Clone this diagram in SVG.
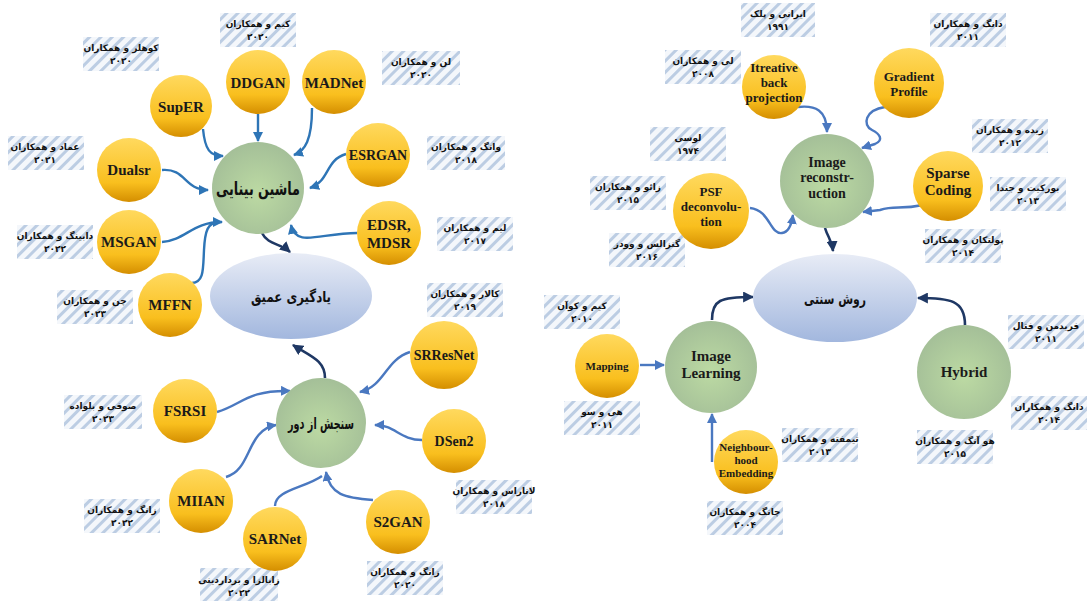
<svg xmlns="http://www.w3.org/2000/svg" width="1087" height="601" viewBox="0 0 1087 601">
<defs>
<style>
.lbl rect{fill:url(#hatch)}
.lbl text{font-family:"DejaVu Sans",sans-serif;font-weight:bold;font-size:9px;fill:#111;text-anchor:middle}
.y circle{fill:url(#gy)}
.g circle{fill:url(#gg)}
.e ellipse{fill:url(#ge)}
.en{font-family:"Liberation Serif",serif;font-weight:bold;fill:#1a1a1a;text-anchor:middle}
.fa{font-family:"DejaVu Sans",sans-serif;font-weight:bold;fill:#111;text-anchor:middle}
.c1{fill:none;stroke:#2e75b6;stroke-width:2.4}
.c2{fill:none;stroke:#4a78c0;stroke-width:2.4}
.cd{fill:none;stroke:#1f3864;stroke-width:2.6}
</style>
<pattern id="hatch" width="8" height="8" patternUnits="userSpaceOnUse" patternTransform="rotate(45)">
<rect width="8" height="8" fill="#f4f7fb"/>
<rect width="3" height="8" fill="#bccde3"/>
</pattern>
<linearGradient id="gy" x1="0" y1="0" x2="0" y2="1">
<stop offset="0" stop-color="#ffd95e"/>
<stop offset="0.7" stop-color="#f9bf1e"/>
<stop offset="1" stop-color="#d48e00"/>
</linearGradient>
<radialGradient id="gg" cx="0.5" cy="0.55" r="0.55">
<stop offset="0" stop-color="#bcdaa3"/>
<stop offset="1" stop-color="#a4bf98"/>
</radialGradient>
<linearGradient id="ge" x1="0" y1="0" x2="0" y2="1">
<stop offset="0" stop-color="#e8ecf6"/>
<stop offset="1" stop-color="#a2b7de"/>
</linearGradient>
<marker id="m1" viewBox="0 0 10 10" refX="9" refY="5" markerWidth="10" markerHeight="10" markerUnits="userSpaceOnUse" orient="auto"><path d="M0,0 L10,5 L0,10 z" fill="#2e75b6"/></marker>
<marker id="m2" viewBox="0 0 10 10" refX="9" refY="5" markerWidth="10" markerHeight="10" markerUnits="userSpaceOnUse" orient="auto"><path d="M0,0 L10,5 L0,10 z" fill="#4a78c0"/></marker>
<marker id="md" viewBox="0 0 10 10" refX="9" refY="5" markerWidth="11" markerHeight="11" markerUnits="userSpaceOnUse" orient="auto"><path d="M0,0 L10,5 L0,10 z" fill="#1f3864"/></marker>
</defs>
<rect width="1087" height="601" fill="#ffffff"/>

<g id="labels">
<g class="lbl"><rect x="83" y="37" width="76" height="34"/><text x="121" y="51">کوهلر و همکاران</text><text x="121" y="64">۲۰۲۰</text></g>
<g class="lbl"><rect x="220" y="13" width="76" height="34"/><text x="258" y="27">کیم و همکاران</text><text x="258" y="40">۲۰۲۰</text></g>
<g class="lbl"><rect x="382" y="51" width="78" height="34"/><text x="421" y="65">لن و همکاران</text><text x="421" y="78">۲۰۲۰</text></g>
<g class="lbl"><rect x="427" y="136" width="78" height="34"/><text x="466" y="150">وانگ و همکاران</text><text x="466" y="163">۲۰۱۸</text></g>
<g class="lbl"><rect x="8" y="136" width="76" height="34"/><text x="45" y="150">عماد و همکاران</text><text x="45" y="163">۲۰۲۱</text></g>
<g class="lbl"><rect x="17" y="225" width="76" height="34"/><text x="55" y="239">دابینگ و همکاران</text><text x="55" y="252">۲۰۲۲</text></g>
<g class="lbl"><rect x="57" y="290" width="76" height="34"/><text x="95" y="304">چن و همکاران</text><text x="95" y="317">۲۰۲۳</text></g>
<g class="lbl"><rect x="437" y="217" width="76" height="34"/><text x="475" y="231">لیم و همکاران</text><text x="475" y="244">۲۰۱۷</text></g>
<g class="lbl"><rect x="427" y="283" width="76" height="34"/><text x="465" y="297">کالار و همکاران</text><text x="465" y="310">۲۰۱۹</text></g>
<g class="lbl"><rect x="64" y="395" width="78" height="34"/><text x="103" y="409">صوفی و بلواده</text><text x="103" y="422">۲۰۲۳</text></g>
<g class="lbl"><rect x="84" y="499" width="76" height="34"/><text x="122" y="513">زانگ و همکاران</text><text x="122" y="526">۲۰۲۲</text></g>
<g class="lbl"><rect x="200" y="568" width="78" height="33"/><text x="239" y="583">زابالزا و برداردینی</text><text x="239" y="596">۲۰۲۲</text></g>
<g class="lbl"><rect x="367" y="561" width="76" height="34"/><text x="405" y="575">زانگ و همکاران</text><text x="405" y="588">۲۰۲۰</text></g>
<g class="lbl"><rect x="456" y="480" width="76" height="34"/><text x="494" y="494">لاناراس و همکاران</text><text x="494" y="507">۲۰۱۸</text></g>

<g class="lbl"><rect x="741" y="3" width="74" height="34"/><text x="778" y="17">ایرانی و پلک</text><text x="778" y="30">۱۹۹۱</text></g>
<g class="lbl"><rect x="665" y="50" width="76" height="34"/><text x="703" y="64">لی و همکاران</text><text x="703" y="77">۲۰۰۸</text></g>
<g class="lbl"><rect x="650" y="127" width="76" height="34"/><text x="688" y="141">لوسی</text><text x="688" y="154">۱۹۷۴</text></g>
<g class="lbl"><rect x="590" y="176" width="76" height="34"/><text x="628" y="190">زائو و همکاران</text><text x="628" y="203">۲۰۱۵</text></g>
<g class="lbl"><rect x="609" y="233" width="76" height="34"/><text x="647" y="247">گنزالس و وودز</text><text x="647" y="260">۲۰۱۶</text></g>
<g class="lbl"><rect x="544" y="295" width="76" height="34"/><text x="582" y="309">کیم و کوآن</text><text x="582" y="322">۲۰۱۰</text></g>
<g class="lbl"><rect x="564" y="401" width="76" height="34"/><text x="602" y="415">هی و سو</text><text x="602" y="428">۲۰۱۱</text></g>
<g class="lbl"><rect x="782" y="428" width="76" height="34"/><text x="820" y="442">تیمفته و همکاران</text><text x="820" y="455">۲۰۱۳</text></g>
<g class="lbl"><rect x="707" y="501" width="76" height="34"/><text x="745" y="515">چانگ و همکاران</text><text x="745" y="528">۲۰۰۴</text></g>
<g class="lbl"><rect x="917" y="430" width="76" height="34"/><text x="955" y="444">هو آنگ و همکاران</text><text x="955" y="457">۲۰۱۵</text></g>
<g class="lbl"><rect x="1008" y="315" width="76" height="34"/><text x="1046" y="329">فریدمن و فتال</text><text x="1046" y="342">۲۰۱۱</text></g>
<g class="lbl"><rect x="1011" y="396" width="76" height="34"/><text x="1049" y="410">دانگ و همکاران</text><text x="1049" y="423">۲۰۱۴</text></g>
<g class="lbl"><rect x="930" y="13" width="76" height="34"/><text x="968" y="27">دانگ و همکاران</text><text x="968" y="40">۲۰۱۱</text></g>
<g class="lbl"><rect x="972" y="119" width="76" height="34"/><text x="1010" y="133">زیده و همکاران</text><text x="1010" y="146">۲۰۱۲</text></g>
<g class="lbl"><rect x="990" y="177" width="76" height="34"/><text x="1028" y="191">بورکیت و جندا</text><text x="1028" y="204">۲۰۱۳</text></g>
<g class="lbl"><rect x="925" y="229" width="76" height="34"/><text x="963" y="243">پولتکان و همکاران</text><text x="963" y="256">۲۰۱۴</text></g>
</g>

<g id="connectors">
<path class="c1" d="M203,129 C205,150 210,156 223,156" marker-end="url(#m1)"/>
<path class="c1" d="M258,114 L258,141" marker-end="url(#m1)"/>
<path class="c1" d="M312,108 C312,140 305,151 294,155" marker-end="url(#m1)"/>
<path class="c1" d="M346,154 C325,160 330,181 310,188" marker-end="url(#m1)"/>
<path class="c1" d="M162,170 C186,168 184,190 208,190" marker-end="url(#m1)"/>
<path class="c1" d="M162,242 C186,240 192,222 222,222" marker-end="url(#m1)"/>
<path class="c1" d="M192,283 C204,282 203,270 204,250 C205,230 208,223 218,222"/>
<path class="c1" d="M357,233 C320,233 296,248 291,225" marker-end="url(#m1)"/>
<path class="cd" d="M262,233 C268,245 280,243 290,252" marker-end="url(#md)"/>

<path class="c2" d="M410,352 C385,360 385,386 360,392" marker-end="url(#m2)"/>
<path class="c2" d="M422,440 C400,440 395,425 375,425" marker-end="url(#m2)"/>
<path class="c2" d="M373,500 C345,498 330,495 326,472" marker-end="url(#m2)"/>
<path class="c2" d="M275,506 C275,490 305,488 322,476"/>
<path class="c2" d="M226,477 C252,470 246,430 276,425" marker-end="url(#m2)"/>
<path class="c2" d="M217,412 C242,405 246,390 290,391" marker-end="url(#m2)"/>
<path class="cd" d="M325,378 C325,360 310,356 293,345" marker-end="url(#md)"/>

<path class="c2" d="M798,107 C815,105 827,110 827,132" marker-end="url(#m2)"/>
<path class="c2" d="M885,107 C865,110 862,125 872,130 C880,134 884,140 875,144 L862,148" marker-end="url(#m2)"/>
<path class="c2" d="M923,205 C900,210 895,205 880,210 L863,212" marker-end="url(#m2)"/>
<path class="c2" d="M750,208 C770,210 770,235 782,233 C790,232 792,222 793,215" marker-end="url(#m2)"/>
<path class="cd" d="M825,228 C828,238 832,240 833,251" marker-end="url(#md)"/>
<path class="cd" d="M712,320 C712,300 720,297 753,297" marker-end="url(#md)"/>
<path class="c2" d="M640,365 L664,365" marker-end="url(#m2)"/>
<path class="c2" d="M712,462 L712,414" marker-end="url(#m2)"/>
<path class="cd" d="M965,325 C965,300 950,298 918,298" marker-end="url(#md)"/>
</g>

<g id="n-dl" class="e"><ellipse cx="291" cy="296" rx="81" ry="43"/><text class="fa" x="291" y="302" font-size="15" textLength="80" lengthAdjust="spacingAndGlyphs">یادگیری عمیق</text></g>
<g id="n-mv" class="g"><circle cx="258" cy="188" r="46"/><text class="fa" x="258" y="195" font-size="18" textLength="84" lengthAdjust="spacingAndGlyphs">ماشین بینایی</text></g>
<g id="n-rs" class="g"><circle cx="321" cy="423" r="45"/><text class="fa" x="321" y="429" font-size="16" textLength="66" lengthAdjust="spacingAndGlyphs">سنجش از دور</text></g>

<g id="n-super" class="y"><circle cx="181" cy="106" r="31"/><text class="en" x="181" y="112" font-size="15">SupER</text></g>
<g id="n-ddgan" class="y"><circle cx="258" cy="82" r="32"/><text class="en" x="258" y="88" font-size="15">DDGAN</text></g>
<g id="n-madnet" class="y"><circle cx="334" cy="82" r="32"/><text class="en" x="334" y="88" font-size="15">MADNet</text></g>
<g id="n-esrgan" class="y"><circle cx="378" cy="155" r="32"/><text class="en" x="378" y="160" font-size="14">ESRGAN</text></g>
<g id="n-dualsr" class="y"><circle cx="129" cy="170" r="32"/><text class="en" x="129" y="175" font-size="15">Dualsr</text></g>
<g id="n-msgan" class="y"><circle cx="129" cy="242" r="32"/><text class="en" x="129" y="247" font-size="15">MSGAN</text></g>
<g id="n-mffn" class="y"><circle cx="170" cy="305" r="32"/><text class="en" x="170" y="310" font-size="15">MFFN</text></g>
<g id="n-edsr" class="y"><circle cx="389" cy="233" r="32"/><text class="en" x="389" y="230" font-size="15">EDSR,</text><text class="en" x="389" y="248" font-size="15">MDSR</text></g>

<g id="n-srresnet" class="y"><circle cx="444" cy="355" r="34"/><text class="en" x="444" y="360" font-size="14">SRResNet</text></g>
<g id="n-dsen2" class="y"><circle cx="454" cy="441" r="32"/><text class="en" x="454" y="446" font-size="14">DSen2</text></g>
<g id="n-s2gan" class="y"><circle cx="398" cy="522" r="32"/><text class="en" x="398" y="527" font-size="15">S2GAN</text></g>
<g id="n-sarnet" class="y"><circle cx="275" cy="539" r="32"/><text class="en" x="275" y="544" font-size="15">SARNet</text></g>
<g id="n-miian" class="y"><circle cx="201" cy="501" r="32"/><text class="en" x="201" y="506" font-size="15">MIIAN</text></g>
<g id="n-fsrsi" class="y"><circle cx="185" cy="411" r="32"/><text class="en" x="185" y="416" font-size="15">FSRSI</text></g>

<g id="n-trad" class="e"><ellipse cx="835" cy="298" rx="82" ry="44"/><text class="fa" x="835" y="304" font-size="15" textLength="62" lengthAdjust="spacingAndGlyphs">روش سنتی</text></g>
<g id="n-recon" class="g"><circle cx="827" cy="181" r="47"/><text class="en" x="827" y="167" font-size="14">Image</text><text class="en" x="827" y="182" font-size="14">reconstr-</text><text class="en" x="827" y="198" font-size="14">uction</text></g>
<g id="n-learn" class="g"><circle cx="711" cy="367" r="46"/><text class="en" x="711" y="361" font-size="15">Image</text><text class="en" x="711" y="378" font-size="15">Learning</text></g>
<g id="n-hybrid" class="g"><circle cx="964" cy="372" r="47"/><text class="en" x="964" y="377" font-size="15">Hybrid</text></g>

<g id="n-ibp" class="y"><circle cx="774" cy="87" r="32"/><text class="en" x="774" y="72" font-size="13">Itreative</text><text class="en" x="774" y="87" font-size="13">back</text><text class="en" x="774" y="102" font-size="13">projection</text></g>
<g id="n-grad" class="y"><circle cx="909" cy="83" r="35"/><text class="en" x="909" y="81" font-size="13">Gradient</text><text class="en" x="909" y="96" font-size="13">Profile</text></g>
<g id="n-sparse" class="y"><circle cx="948" cy="186" r="35"/><text class="en" x="948" y="178" font-size="15">Sparse</text><text class="en" x="948" y="195" font-size="15">Coding</text></g>
<g id="n-psf" class="y"><circle cx="711" cy="211" r="38"/><text class="en" x="711" y="196" font-size="13">PSF</text><text class="en" x="711" y="211" font-size="13">deconvolu-</text><text class="en" x="711" y="226" font-size="13">tion</text></g>
<g id="n-map" class="y"><circle cx="607" cy="366" r="32"/><text class="en" x="607" y="370" font-size="11">Mapping</text></g>
<g id="n-nbr" class="y"><circle cx="746" cy="462" r="32"/><text class="en" x="746" y="451" font-size="11">Neighbour-</text><text class="en" x="746" y="464" font-size="11">hood</text><text class="en" x="746" y="477" font-size="11">Embedding</text></g>
</svg>
